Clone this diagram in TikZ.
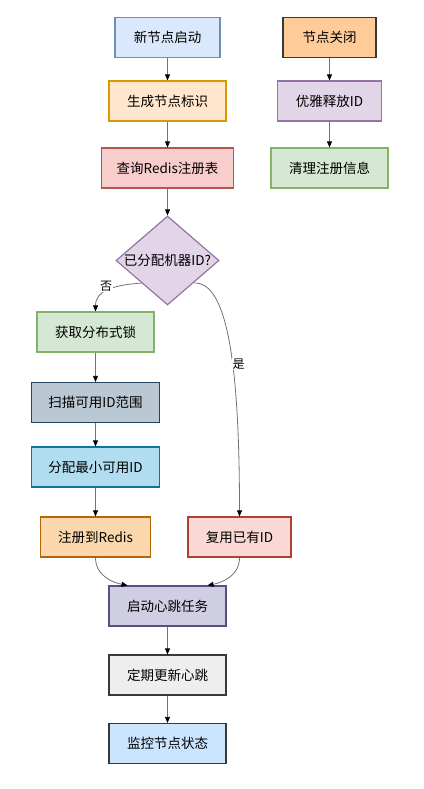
\documentclass[tikz,border=0pt]{standalone}
\usepackage{fontspec}
\setmainfont{Noto Sans CJK SC}
\usetikzlibrary{shapes.geometric,arrows.meta}
\definecolor{bluef}{HTML}{DAE8FC}\definecolor{blued}{HTML}{6C8EBF}
\definecolor{orf}{HTML}{FFCC99}\definecolor{ord}{HTML}{36393D}
\definecolor{yelf}{HTML}{FFE6CC}\definecolor{yeld}{HTML}{D79B00}
\definecolor{purf}{HTML}{E1D5E7}\definecolor{purd}{HTML}{9673A6}
\definecolor{redf}{HTML}{F8CECC}\definecolor{redd}{HTML}{B85450}
\definecolor{grnf}{HTML}{D5E8D4}\definecolor{grnd}{HTML}{82B366}
\definecolor{slatef}{HTML}{BAC8D3}\definecolor{slated}{HTML}{23445D}
\definecolor{cyanf}{HTML}{B1DDF0}\definecolor{cyand}{HTML}{10739E}
\definecolor{orgf}{HTML}{FAD7AC}\definecolor{orgd}{HTML}{B46504}
\definecolor{pinkf}{HTML}{FAD9D5}\definecolor{pinkd}{HTML}{AE4132}
\definecolor{lavf}{HTML}{D0CEE2}\definecolor{lavd}{HTML}{56517E}
\definecolor{grayf}{HTML}{EEEEEE}
\definecolor{ltbf}{HTML}{CCE5FF}
\begin{document}
\begin{tikzpicture}[x=1pt,y=-1pt,
  box/.style={draw, line width=1.2pt, minimum height=40pt, inner sep=0pt,
    font=\fontsize{13.5}{16}\selectfont},
  arr/.style={-{Triangle[length=6pt,width=5pt,color=black]}, line width=0.8pt, draw=black!55},
  lbl/.style={font=\fontsize{12}{14}\selectfont, fill=white, inner sep=1pt},
]
\useasboundingbox (0,0) rectangle (423,789);
% main column
\node[box, minimum width=105pt, fill=bluef, draw=blued] (start) at (167.5,37.5) {新节点启动};
\node[box, minimum width=117pt, fill=yelf, draw=yeld] (gen) at (167.5,101) {生成节点标识};
\node[box, minimum width=132pt, fill=redf, draw=redd] (query) at (167.5,168) {查询Redis注册表};
\node[draw=purd, fill=purf, line width=1.2pt, shape=diamond, minimum width=103pt, minimum height=89pt, inner sep=0pt] (dec) at (167.5,260.5) {};
\node[font=\fontsize{13.5}{16}\selectfont] (dtext) at (dec.center) {已分配机器ID?};
% right column
\node[box, minimum width=93pt, fill=orf, draw=ord] (close) at (329.5,37.5) {节点关闭};
\node[box, minimum width=104pt, fill=purf, draw=purd] (release) at (329.5,101) {优雅释放ID};
\node[box, minimum width=117pt, fill=grnf, draw=grnd] (clean) at (329.5,168) {清理注册信息};
% left column
\node[box, minimum width=117pt, fill=grnf, draw=grnd] (lock) at (95.5,332) {获取分布式锁};
\node[box, minimum width=128pt, fill=slatef, draw=slated] (scan) at (95.5,402.5) {扫描可用ID范围};
\node[box, minimum width=128pt, fill=cyanf, draw=cyand] (alloc) at (95.5,467) {分配最小可用ID};
\node[box, minimum width=110pt, fill=orgf, draw=orgd] (reg) at (95.5,537) {注册到Redis};
\node[box, minimum width=103pt, fill=pinkf, draw=pinkd] (reuse) at (239.5,537) {复用已有ID};
% bottom
\node[box, minimum width=117pt, fill=lavf, draw=lavd] (heart) at (167.5,606) {启动心跳任务};
\node[box, minimum width=117pt, fill=grayf, draw=ord] (upd) at (167.5,675) {定期更新心跳};
\node[box, minimum width=117pt, fill=ltbf, draw=ord] (mon) at (167.5,743.5) {监控节点状态};
% arrows
\draw[arr] (start) -- (gen);
\draw[arr] (gen) -- (query);
\draw[arr] (query) -- (dec.north);
\draw[arr] (close) -- (release);
\draw[arr] (release) -- (clean);
\draw[arr] (dec.south west) .. controls (115,285) and (95.5,290) .. (lock.north);
\node[lbl] (no) at (106,286) {否};
\draw[arr] (dec.south east) .. controls (230,280) and (239.5,380) .. (reuse.north);
\node[lbl] (yes) at (238.5,364) {是};
\draw[arr] (lock) -- (scan);
\draw[arr] (scan) -- (alloc);
\draw[arr] (alloc) -- (reg);
\draw[arr] (reg.south) .. controls (95.5,577) and (115,583) .. ([xshift=-40pt]heart.north);
\draw[arr] (reuse.south) .. controls (239.5,577) and (220,583) .. ([xshift=40pt]heart.north);
\draw[arr] (heart) -- (upd);
\draw[arr] (upd) -- (mon);
\end{tikzpicture}
\end{document}
